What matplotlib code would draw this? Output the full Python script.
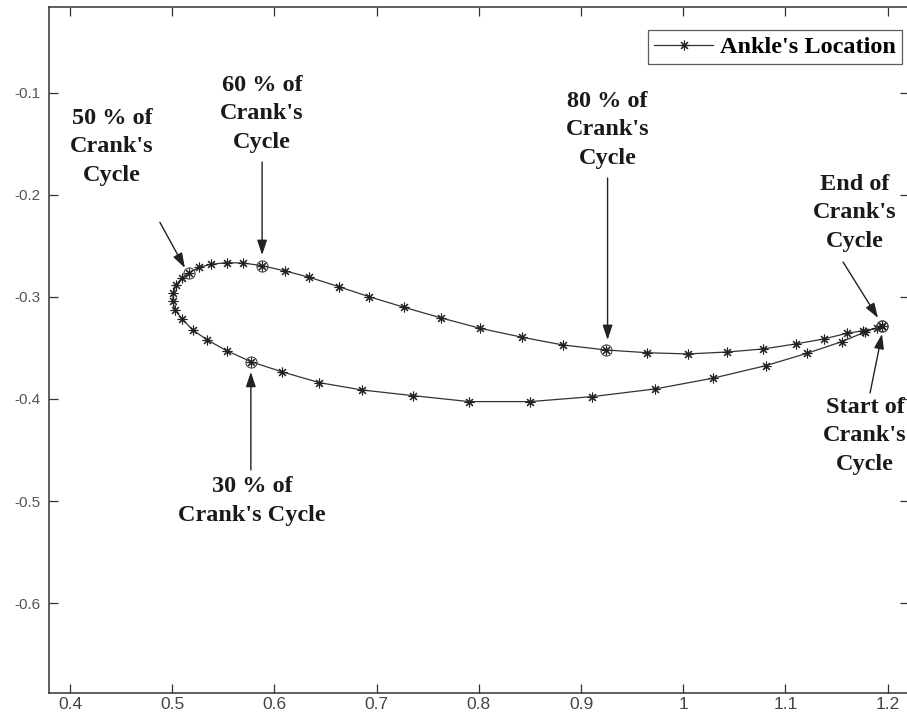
import matplotlib
matplotlib.use("Agg")
import matplotlib.pyplot as plt

# ankle path (start -> lower branch -> nose -> upper branch -> end)
ankle_x = [1.1942, 1.1779, 1.1551, 1.1208, 1.0807, 1.0289, 0.9724, 0.9111, 0.8501, 0.7907,
           0.7359, 0.6857, 0.6439, 0.6071, 0.5771, 0.5533, 0.5343, 0.5201, 0.5099, 0.5027,
           0.5005, 0.5011, 0.5037, 0.5093, 0.5167, 0.5265, 0.5380, 0.5533, 0.5690, 0.5876,
           0.6104, 0.6342, 0.6629, 0.6926, 0.7268, 0.7635, 0.8012, 0.8426, 0.8821, 0.9242,
           0.9643, 1.0044, 1.0432, 1.0784, 1.1101, 1.1378, 1.1600, 1.1762, 1.1893, 1.1942]
ankle_y = [-0.3285, -0.3344, -0.3439, -0.3554, -0.3674, -0.3797, -0.3902, -0.3977, -0.4026, -0.4026,
           -0.3968, -0.3912, -0.3840, -0.3733, -0.3635, -0.3527, -0.3422, -0.3324, -0.3219, -0.3128,
           -0.3040, -0.2965, -0.2883, -0.2818, -0.2763, -0.2710, -0.2681, -0.2665, -0.2668, -0.2694,
           -0.2746, -0.2808, -0.2900, -0.2998, -0.3102, -0.3207, -0.3308, -0.3396, -0.3471, -0.3520,
           -0.3547, -0.3559, -0.3540, -0.3510, -0.3461, -0.3412, -0.3357, -0.3331, -0.3308, -0.3285]

# marked points of the crank cycle
key_idx = [0, 14, 24, 29, 39, 49]

# annotation labels, text centre, arrow tail, arrow head
notes = [
    ("50 % of\nCrank's\nCycle", (0.441, -0.1532), (0.488, -0.227), (0.5125, -0.2717)),
    ("60 % of\nCrank's\nCycle", (0.588, -0.1209), (0.588, -0.168), (0.588, -0.259)),
    ("80 % of\nCrank's\nCycle", (0.926, -0.1365), (0.926, -0.1836), (0.926, -0.3422)),
    ("End of\nCrank's\nCycle", (1.168, -0.2178), (1.1564, -0.2659), (1.1906, -0.3207)),
    ("Start of\nCrank's\nCycle", (1.178, -0.4362), (1.1828, -0.3941), (1.1945, -0.3363)),
    ("30 % of\nCrank's Cycle", (0.578, -0.4999), (0.577, -0.4695), (0.577, -0.3735)),
]

x_ticks = [0.4, 0.5, 0.6, 0.7, 0.8, 0.9, 1.0, 1.1, 1.2]
x_labels = ["0.4", "0.5", "0.6", "0.7", "0.8", "0.9", "1", "1.1", "1.2"]
y_ticks = [-0.6, -0.5, -0.4, -0.3, -0.2, -0.1]
y_labels = ["-0.6", "-0.5", "-0.4", "-0.3", "-0.2", "-0.1"]

fig = plt.figure(figsize=(9.07, 7.18), dpi=100)
ax = fig.add_axes([49 / 907, 25 / 718, 860 / 907, 686 / 718])

asterisk = (8, 2, 0)
ax.plot(ankle_x, ankle_y, color="#333333", lw=0.9, marker=asterisk, ms=7,
        mec="#222222", mew=0.8, label="Ankle's Location")
ax.plot([ankle_x[i] for i in key_idx], [ankle_y[i] for i in key_idx], ls="none",
        marker="o", ms=8, mfc="none", mec="#444444", mew=0.8)

for txt, tpos, tail, head in notes:
    ax.text(tpos[0], tpos[1], txt, ha="center", va="center", family="Liberation Serif",
            fontweight="bold", fontsize=17.5, linespacing=1.45, color="#1a1a1a")
    ax.annotate("", xy=head, xytext=tail,
                arrowprops=dict(arrowstyle="-|>,head_length=0.9,head_width=0.3",
                                color="#222222", lw=1.0, shrinkA=0, shrinkB=0))

ax.set_xlim(0.3795, 1.2209)
ax.set_ylim(-0.688, -0.0161)
ax.set_xticks(x_ticks)
ax.set_xticklabels(x_labels, family="Liberation Sans", fontsize=12.5, color="#444444")
ax.set_yticks(y_ticks)
ax.set_yticklabels(y_labels, family="Liberation Sans", fontsize=11, color="#555555")
ax.tick_params(direction="in", length=6.5, width=0.9, color="#333333",
               top=True, right=True)
ax.tick_params(axis="x", pad=3)
ax.tick_params(axis="y", pad=6)
for s in ax.spines.values():
    s.set_linewidth(1.1)
    s.set_color("#333333")

leg = ax.legend(loc="upper right", bbox_to_anchor=(853 / 860, 1 - 23 / 686),
                prop={"family": "Liberation Serif", "weight": "bold", "size": 17.5},
                frameon=True, fancybox=False, handlelength=2.4, borderpad=0.25,
                handletextpad=0.3, borderaxespad=0)
leg.get_frame().set_edgecolor("#333333")
leg.get_frame().set_linewidth(0.9)

fig.savefig("out.png", dpi=100)
